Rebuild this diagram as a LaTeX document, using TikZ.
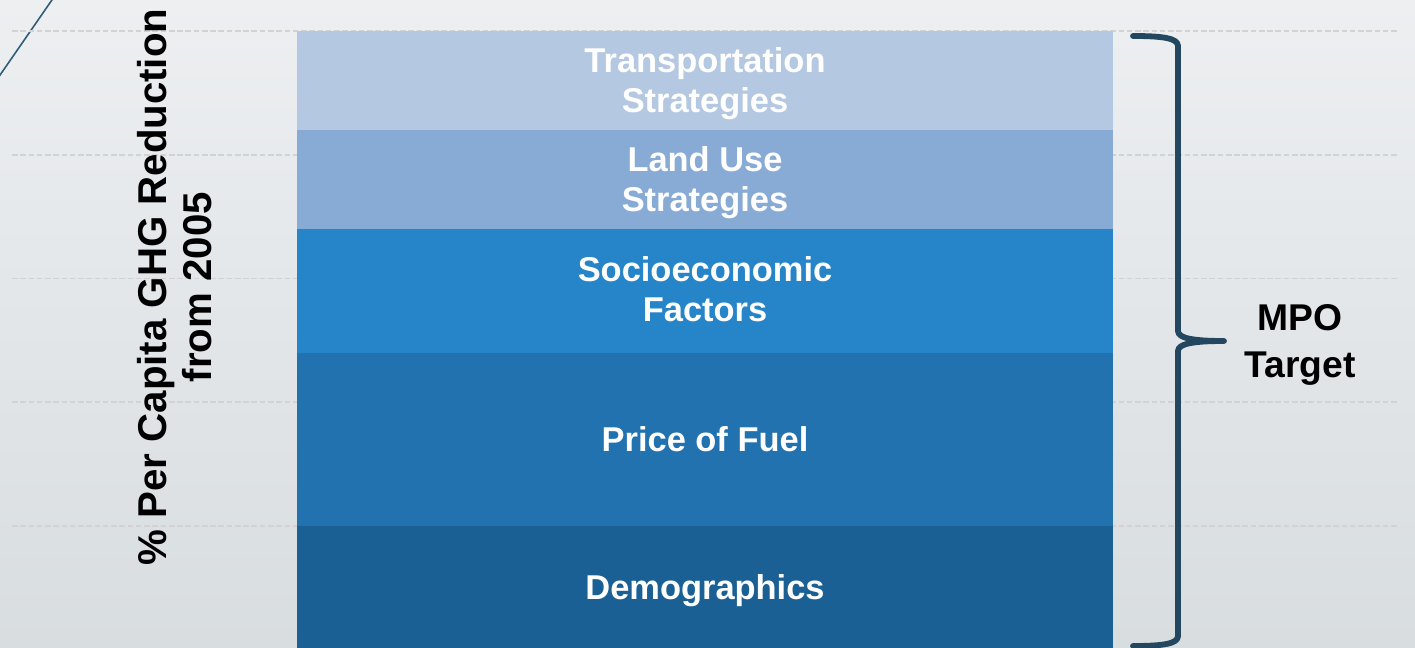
\documentclass[tikz,border=0pt]{standalone}
\usepackage{fontspec}
\setmainfont{Liberation Sans}
\usepackage{tikz}
\usetikzlibrary{positioning}
\definecolor{bgtop}{RGB}{237,239,241}
\definecolor{bgbot}{RGB}{216,221,224}
\definecolor{gridgray}{RGB}{208,210,212}
\definecolor{transp}{RGB}{180,200,226}
\definecolor{landuse}{RGB}{136,171,214}
\definecolor{socio}{RGB}{38,132,200}
\definecolor{fuel}{RGB}{34,114,176}
\definecolor{demog}{RGB}{27,96,148}
\definecolor{bracecol}{RGB}{35,71,95}
\definecolor{swoosh}{RGB}{47,93,120}
\tikzstyle{gridline} = [gridgray, line width=0.9pt, dash pattern=on 3.2pt off 1.5pt]
\tikzstyle{barlabel} = [text=white, align=center, inner sep=0pt, font=\fontsize{19.6}{22.7}\selectfont\bfseries]

\begin{document}
\begin{tikzpicture}[x=0.02cm, y=-0.02cm]
        \useasboundingbox (0,0) rectangle (1415,648);
        \shade[top color=bgtop, bottom color=bgbot] (0,0) rectangle (1415,648);
        \draw[swoosh, line width=0.9pt] (-2,78) -- (54,-3);
        \foreach \n in {0,...,4}
        {
            \draw[gridline] (12,31+123.75*\n) -- (1398,31+123.75*\n);
        }

        % stacked bar, top to bottom
        \foreach \yt/\yb/\fc in {31/130/transp, 130/229/landuse, 229/353/socio, 353/526/fuel, 526/660/demog}
        {
            \fill[\fc] (297,\yt) rectangle (1113,\yb);
        }
        \node[barlabel] (L1) at (705,84) {Transportation\\Strategies};
        \node[barlabel] (L2) at (705,183) {Land Use\\Strategies};
        \node[barlabel] (L3) at (705,289.5) {Socioeconomic\\Factors};
        \node[barlabel] (L4) at (705,439.5) {Price of Fuel};
        \node[barlabel] (L5) at (705,591) {Demographics};

        \node[rotate=90, align=center, inner sep=0pt, font=\fontsize{22.9}{25.6}\selectfont\bfseries] (ylab) at (175,287) {\% Per Capita GHG Reduction\\from 2005};

        % brace
        \draw[bracecol, line width=3.3pt, line cap=round, line join=round]
            (1133,36) .. controls (1162,36) and (1178,38) .. (1178,46)
            -- (1178,331) .. controls (1178,338) and (1192,341) .. (1224,341)
            .. controls (1192,341) and (1178,344) .. (1178,351)
            -- (1178,636) .. controls (1178,644) and (1162,646) .. (1133,646);
        \coordinate (tip) at (1224,341);
        \node[align=center, inner sep=0pt, font=\fontsize{21.2}{27.2}\selectfont\bfseries] (mpo) at (1300,345) {MPO\\Target};
\end{tikzpicture}
\end{document}
